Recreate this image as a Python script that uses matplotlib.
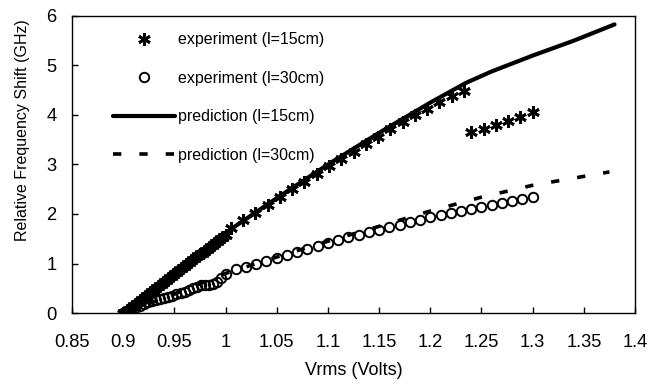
import matplotlib
matplotlib.use("Agg")
import matplotlib.pyplot as plt

plt.rcParams['font.family'] = ['Liberation Sans', 'DejaVu Sans']

# Experiment, l = 15 cm
exp15_v = [0.9, 0.9025, 0.905, 0.9075, 0.91, 0.9125, 0.915, 0.9175, 0.92, 0.9225,
           0.925, 0.9275, 0.93, 0.9325, 0.935, 0.9375, 0.94, 0.9425, 0.945, 0.9475,
           0.95, 0.9525, 0.955, 0.9575, 0.96, 0.9625, 0.965, 0.9675, 0.97, 0.9725,
           0.975, 0.9775, 0.98, 0.9825, 0.985, 0.9875, 0.99, 0.9925, 0.995, 0.9975, 1.0,
           1.005, 1.017, 1.029, 1.041, 1.053, 1.065, 1.077, 1.089, 1.101, 1.113,
           1.125, 1.137, 1.149, 1.161, 1.173, 1.185, 1.197, 1.209, 1.221, 1.233,
           1.24, 1.252, 1.264, 1.276, 1.288, 1.30]
exp15_g = [0.0, 0.03, 0.07, 0.11, 0.15, 0.19, 0.23, 0.27, 0.31, 0.35,
           0.39, 0.43, 0.47, 0.51, 0.55, 0.59, 0.63, 0.67, 0.71, 0.75,
           0.79, 0.83, 0.87, 0.91, 0.95, 0.99, 1.03, 1.07, 1.11, 1.15,
           1.19, 1.22, 1.26, 1.30, 1.34, 1.38, 1.41, 1.45, 1.49, 1.53, 1.57,
           1.72, 1.88, 2.03, 2.19, 2.34, 2.50, 2.65, 2.81, 2.96, 3.11,
           3.26, 3.41, 3.56, 3.71, 3.85, 3.99, 4.13, 4.26, 4.38, 4.48,
           3.65, 3.72, 3.80, 3.88, 3.96, 4.06]

# Experiment, l = 30 cm
exp30_v = [0.9, 0.904, 0.908, 0.912, 0.916, 0.92, 0.924, 0.928, 0.932, 0.936,
           0.94, 0.944, 0.948, 0.952, 0.956, 0.96, 0.964, 0.968, 0.972, 0.976,
           0.98, 0.984, 0.988, 0.992, 0.996, 1.0,
           1.01, 1.02, 1.03, 1.04, 1.05, 1.06, 1.07, 1.08, 1.09, 1.10,
           1.11, 1.12, 1.13, 1.14, 1.15, 1.16, 1.17, 1.18, 1.19, 1.20,
           1.21, 1.22, 1.23, 1.24, 1.25, 1.26, 1.27, 1.28, 1.29, 1.30]
exp30_g = [0.0, 0.03, 0.07, 0.11, 0.15, 0.19, 0.22, 0.25, 0.27, 0.29,
           0.31, 0.33, 0.35, 0.38, 0.41, 0.43, 0.46, 0.50, 0.53, 0.56,
           0.57, 0.57, 0.58, 0.62, 0.70, 0.78,
           0.88, 0.93, 1.00, 1.06, 1.12, 1.17, 1.24, 1.30, 1.35, 1.42,
           1.47, 1.53, 1.58, 1.63, 1.68, 1.73, 1.78, 1.83, 1.88, 1.93,
           1.98, 2.02, 2.06, 2.10, 2.14, 2.18, 2.22, 2.26, 2.30, 2.34]

# Prediction, l = 15 cm
pred15_v = [0.9, 0.95, 1.0, 1.05, 1.1, 1.15, 1.2, 1.235, 1.26, 1.3, 1.34, 1.38]
pred15_g = [0.0, 0.80, 1.62, 2.32, 3.00, 3.64, 4.25, 4.65, 4.88, 5.20, 5.50, 5.83]

# Prediction, l = 30 cm
pred30_v = [0.9, 0.95, 1.0, 1.05, 1.1, 1.15, 1.2, 1.25, 1.3, 1.375]
pred30_g = [0.0, 0.38, 0.80, 1.13, 1.45, 1.75, 2.06, 2.34, 2.58, 2.85]

xticks = [0.85, 0.9, 0.95, 1.0, 1.05, 1.1, 1.15, 1.2, 1.25, 1.3, 1.35, 1.4]
xtick_labels = ['0.85', '0.9', '0.95', '1', '1.05', '1.1', '1.15', '1.2',
                '1.25', '1.3', '1.35', '1.4']
yticks = [0, 1, 2, 3, 4, 5, 6]

fig = plt.figure(figsize=(6.57, 3.87), dpi=100)
ax = fig.add_axes([72/657, 1 - 313/387, (635 - 72)/657, (313 - 16)/387])

FS = 11.5
TFS = 13.2

ax.plot(exp15_v, exp15_g, linestyle='none', marker=(6, 2, 0), markersize=9,
        markeredgewidth=2.0, color='black', label='experiment (l=15cm)', zorder=3)
ax.plot(exp30_v, exp30_g, linestyle='none', marker='o', markersize=6.8,
        markerfacecolor='none', markeredgecolor='black', markeredgewidth=1.4,
        label='experiment (l=30cm)', zorder=3)
ax.plot(pred15_v, pred15_g, color='black', linewidth=3.0, solid_capstyle='round',
        label='prediction (l=15cm)', zorder=2)
ax.plot(pred30_v, pred30_g, color='black', linewidth=2.6, dashes=(2.3, 5.0),
        label='prediction (l=30cm)', zorder=2)

ax.set_xlim(0.85, 1.4)
ax.set_ylim(0, 6)
ax.set_xticks(xticks)
ax.set_xticklabels(xtick_labels)
ax.set_yticks(yticks)
ax.tick_params(axis='both', direction='in', length=4, width=1, labelsize=TFS)
ax.tick_params(axis='x', pad=15)
ax.tick_params(axis='y', pad=11)
for s in ax.spines.values():
    s.set_linewidth(1.0)

ax.set_xlabel('Vrms (Volts)', fontsize=13)
ax.set_ylabel('Relative Frequency Shift (GHz)', fontsize=FS)
ax.xaxis.set_label_coords(0.5, -0.165)
ax.yaxis.set_label_coords(-0.075, 0.616)

leg = ax.legend(loc='upper left', bbox_to_anchor=(0.073, 0.945), frameon=False,
                fontsize=FS, handlelength=3.9, handletextpad=0.15, labelspacing=1.475,
                numpoints=1, borderpad=0, borderaxespad=0)

fig.savefig('out.png', dpi=100)
